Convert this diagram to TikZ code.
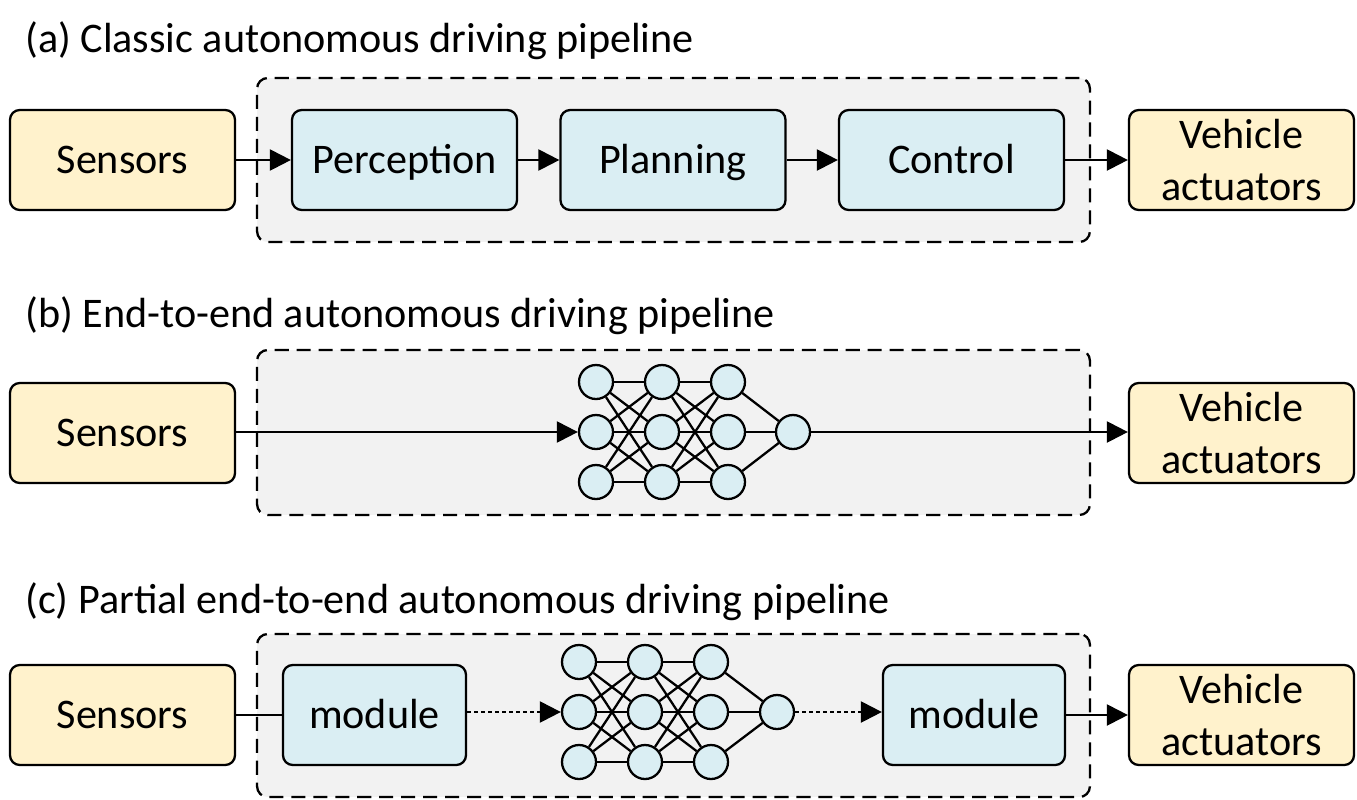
\documentclass[tikz,border=0pt]{standalone}
\usepackage{fontspec}
\setmainfont{Carlito}
\usetikzlibrary{arrows.meta}
\definecolor{ioyellow}{HTML}{FFF2CC}
\definecolor{stageblue}{HTML}{DAEEF3}
\definecolor{framegrey}{HTML}{F2F2F2}

\begin{document}
\begin{tikzpicture}[x=0.02cm,y=-0.02cm]

        \useasboundingbox (0,0) rectangle (1357,799);

        \tikzstyle{every node}=[font=\fontsize{24}{29.5}\selectfont]
        \tikzstyle{io}=[draw,rectangle,rounded corners=5.5pt,line width=1.3pt,fill=ioyellow,minimum width=4.5cm,minimum height=2cm,align=center,inner sep=0pt]
        \tikzstyle{oneline}=[text height=15.5pt,text depth=0pt]
        \tikzstyle{stage}=[io,oneline,fill=stageblue]
        \tikzstyle{frame}=[draw,rectangle,rounded corners=6pt,line width=1.3pt,dash pattern=on 8pt off 4.5pt,fill=framegrey,minimum width=16.66cm]
        \tikzstyle{neuron}=[draw,circle,line width=1.3pt,fill=stageblue,minimum size=0.68cm,inner sep=0pt]
        \tikzstyle{title}=[anchor=base west,inner sep=0pt]
        \tikzstyle{wire}=[line width=1.3pt]
        \tikzstyle{link}=[wire,-{Triangle[length=12pt,width=12pt]}]
        \tikzstyle{dotlink}=[link,dash pattern=on 2pt off 2pt]

        % (a) classic pipeline
        \node[title] (title_a) at (25,52) {(a) Classic autonomous driving pipeline};
        \node[frame,minimum height=3.28cm] (frame_a) at (673.5,160) {};
        \node[io,oneline] (sensors_a) at (122.5,160) {Sensors};
        \foreach \name/\x/\txt in {perception/404.5/Perception,planning/673/Planning,control/951.5/Control} {
            \node[stage] (\name) at (\x,160) {\txt};
        }
        \node[io] (vehicle_a) at (1241.5,160) {Vehicle\\actuators};
        \draw[link] (sensors_a) -- (perception);
        \draw[link] (perception) -- (planning);
        \draw[link] (planning) -- (control);
        \draw[link] (control) -- (vehicle_a);

        % (b) end-to-end pipeline
        \node[title] (title_b) at (25,327) {(b) End-to-end autonomous driving pipeline};
        \node[frame,minimum height=3.3cm] (frame_b) at (673.5,432.5) {};
        \node[io,oneline] (sensors_b) at (122.5,433) {Sensors};
        \node[io] (vehicle_b) at (1241.5,433) {Vehicle\\actuators};
        \foreach \c/\x in {1/596,2/662,3/728} {
            \foreach \r/\y in {1/382,2/432,3/482} {
                \node[neuron] (b_\c_\r) at (\x,\y) {};
            }
        }
        \node[neuron] (b_out) at (793,432) {};
        \foreach \a/\b in {1/2,2/3} {
            \foreach \i in {1,2,3} {
                \foreach \j in {1,2,3} {
                    \draw[wire] (b_\a_\i) -- (b_\b_\j);
                }
            }
        }
        \foreach \i in {1,2,3} {
            \draw[wire] (b_3_\i) -- (b_out);
        }
        \draw[link] (sensors_b.east |- b_1_2) -- (b_1_2);
        \draw[link] (b_out) -- (vehicle_b.west |- b_out);

        % (c) partial end-to-end pipeline
        \node[title] (title_c) at (25,613) {(c) Partial end-to-end autonomous driving pipeline};
        \node[frame,minimum height=3.26cm] (frame_c) at (673.5,715.5) {};
        \node[io,oneline] (sensors_c) at (122.5,715) {Sensors};
        \node[stage,minimum width=3.66cm] (module_in) at (374.5,715) {module};
        \node[stage,minimum width=3.64cm] (module_out) at (974,715) {module};
        \node[io] (vehicle_c) at (1241.5,715) {Vehicle\\actuators};
        \foreach \c/\x in {1/579,2/645,3/711} {
            \foreach \r/\y in {1/662,2/712,3/762} {
                \node[neuron] (c_\c_\r) at (\x,\y) {};
            }
        }
        \node[neuron] (c_out) at (777,712) {};
        \foreach \a/\b in {1/2,2/3} {
            \foreach \i in {1,2,3} {
                \foreach \j in {1,2,3} {
                    \draw[wire] (c_\a_\i) -- (c_\b_\j);
                }
            }
        }
        \foreach \i in {1,2,3} {
            \draw[wire] (c_3_\i) -- (c_out);
        }
        \draw[wire] (sensors_c) -- (module_in);
        \draw[dotlink] (module_in.east |- c_1_2) -- (c_1_2);
        \draw[dotlink] (c_out) -- (module_out.west |- c_out);
        \draw[link] (module_out) -- (vehicle_c);

    \end{tikzpicture}
\end{document}
